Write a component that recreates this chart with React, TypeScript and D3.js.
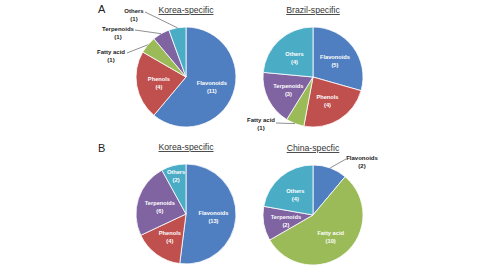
import React from 'react';
import * as d3 from 'd3';

// categories in drawing order (clockwise from 12 o'clock)
const koreaACats = ['Flavonoids', 'Phenols', 'Fatty acid', 'Terpenoids', 'Others'];
const koreaAValues = [11, 4, 1, 1, 1];
const brazilCats = ['Flavonoids', 'Phenols', 'Fatty acid', 'Terpenoids', 'Others'];
const brazilValues = [5, 4, 1, 3, 4];
const koreaBCats = ['Flavonoids', 'Phenols', 'Terpenoids', 'Others'];
const koreaBValues = [13, 4, 6, 2];
const chinaCats = ['Flavonoids', 'Fatty acid', 'Terpenoids', 'Others'];
const chinaValues = [2, 10, 2, 4];

const colors: Record<string, string> = {
  'Flavonoids': '#4f7fc0',
  'Phenols': '#c0504d',
  'Fatty acid': '#9bbb59',
  'Terpenoids': '#8064a2',
  'Others': '#4bacc6',
};

// labels drawn outside the pie with a leader line: text centre + leader start
const outside: Record<string, Record<string, { x: number; y: number; lx: number; ly: number }>> = {
  koreaA: {
    'Others': { x: 134, y: 13, lx: 145, ly: 12 },
    'Terpenoids': { x: 118, y: 31, lx: 135, ly: 30 },
    'Fatty acid': { x: 111, y: 54, lx: 127, ly: 53 },
  },
  brazil: {
    'Fatty acid': { x: 261, y: 122, lx: 276, ly: 123 },
  },
  china: {
    'Flavonoids': { x: 362, y: 160, lx: 346, ly: 159 },
  },
};

const R = 50;
const font = '"Liberation Sans", Arial, sans-serif';

const Pie = ({ id, cats, values, cx, cy, title }:
  { id: string; cats: string[]; values: number[]; cx: number; cy: number; title: string }) => {
  const data = cats.map((c, i) => ({ cat: c, value: values[i] }));
  const total = d3.sum(values);
  const pie = d3.pie<any>().sort(null).value(d => d.value);
  const arcs = pie(data);
  const arc = d3.arc<any>().innerRadius(0).outerRadius(R);
  const outs = outside[id] || {};

  return (
    <g>
      <text x={cx} y={cy - R - 14} textAnchor="middle" fontFamily={font} fontSize={8.7}
        fill="#333" textDecoration="underline">{title}</text>
      <g transform={`translate(${cx},${cy})`}>
        {arcs.map(a => (
          <path key={a.data.cat} d={arc(a) || ''} fill={colors[a.data.cat]}
            stroke="#fff" strokeWidth={0.8} />
        ))}
        {arcs.map(a => {
          if (outs[a.data.cat]) return null;
          const f = a.data.value / total < 0.1 ? 0.8 : 0.55;
          const [lx, ly] = d3.arc<any>().innerRadius(R * f).outerRadius(R * f).centroid(a);
          return (
            <text key={a.data.cat} x={lx} y={ly} textAnchor="middle" fontFamily={font}
              fontSize={5.7} fontWeight="bold" fill="#fff">
              <tspan x={lx} dy={-1}>{a.data.cat}</tspan>
              <tspan x={lx} dy={8}>({a.data.value})</tspan>
            </text>
          );
        })}
      </g>
      {arcs.map(a => {
        const o = outs[a.data.cat];
        if (!o) return null;
        const mid = (a.startAngle + a.endAngle) / 2;
        const ex = cx + Math.sin(mid) * R;
        const ey = cy - Math.cos(mid) * R;
        return (
          <g key={a.data.cat}>
            <line x1={o.lx} y1={o.ly} x2={ex} y2={ey} stroke="#444" strokeWidth={0.6} />
            <text x={o.x} y={o.y} textAnchor="middle" fontFamily={font} fontSize={6}
              fontWeight="bold" fill="#222">
              <tspan x={o.x} dy={0}>{a.data.cat}</tspan>
              <tspan x={o.x} dy={8}>({a.data.value})</tspan>
            </text>
          </g>
        );
      })}
    </g>
  );
};

const App = () => (
  <svg width={479} height={268} style={{ position: 'absolute', left: 0, top: 0, background: '#fff' }}>
    <text x={98} y={13} fontFamily={font} fontSize={11} fill="#222">A</text>
    <text x={98} y={152} fontFamily={font} fontSize={11} fill="#222">B</text>
    <Pie id="koreaA" cats={koreaACats} values={koreaAValues} cx={186} cy={77} title="Korea-specific" />
    <Pie id="brazil" cats={brazilCats} values={brazilValues} cx={313} cy={77} title="Brazil-specific" />
    <Pie id="koreaB" cats={koreaBCats} values={koreaBValues} cx={186} cy={214} title="Korea-specific" />
    <Pie id="china" cats={chinaCats} values={chinaValues} cx={313} cy={215} title="China-specfic" />
  </svg>
);

export default App;
